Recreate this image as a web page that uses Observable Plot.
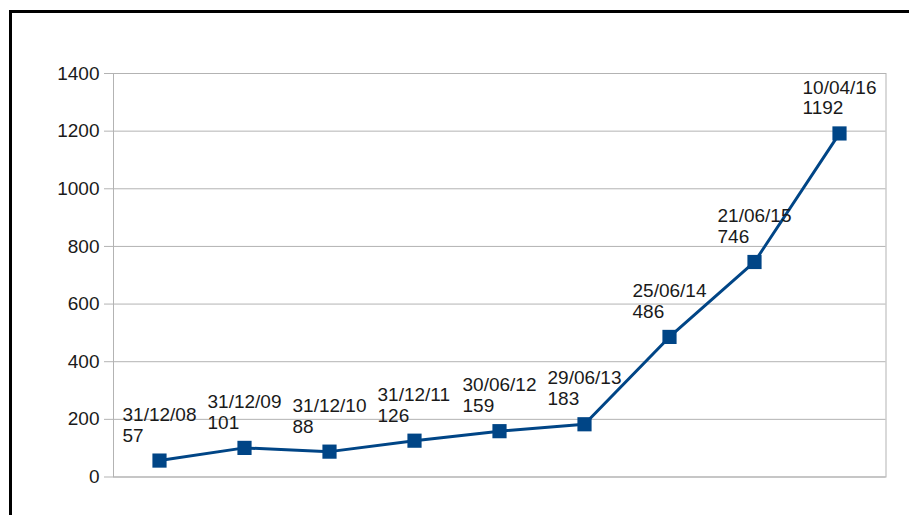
<!DOCTYPE html>
<html>
<head>
<meta charset="utf-8">
<script src="https://cdn.jsdelivr.net/npm/d3@7"></script>
<script src="https://cdn.jsdelivr.net/npm/@observablehq/plot@0.6"></script>
<style>
  html, body { margin: 0; padding: 0; background: #fff; overflow: hidden; }
  #wrap { position: relative; width: 909px; height: 515px; }
  #border { position: absolute; left: 9px; top: 10px; width: 1000px; height: 1000px;
            border: 3px solid #000; pointer-events: none; }
  svg { display: block; }
</style>
</head>
<body>
<div id="wrap"><div id="border"></div></div>
<script>
const dates = ["31/12/08", "31/12/09", "31/12/10", "31/12/11", "30/06/12", "29/06/13", "25/06/14", "21/06/15", "10/04/16"];
const values = [57, 101, 88, 126, 159, 183, 486, 746, 1192];
const yTicks = [0, 200, 400, 600, 800, 1000, 1200, 1400];

const data = dates.map((d, i) => ({date: d, value: values[i]}));

const chart = Plot.plot({
  width: 909,
  height: 515,
  marginLeft: 113,
  marginRight: 23.5,
  marginTop: 73,
  marginBottom: 38.5,
  style: {fontFamily: "'Liberation Sans', Arial, sans-serif", background: "transparent", color: "#1a1a1a"},
  x: {type: "point", domain: dates, padding: 0.5, axis: null},
  y: {domain: [0, 1400], axis: null},
  marks: [
    Plot.gridY(yTicks, {stroke: "#b3b3b3", strokeOpacity: 1, strokeWidth: 1}),
    Plot.frame({stroke: "#b3b3b3", strokeWidth: 1}),
    Plot.axisY(yTicks, {tickSize: 9, tickPadding: 5, stroke: "#b3b3b3", fill: "#1a1a1a", fontSize: 19, label: null, tickFormat: d => String(d)}),
    Plot.line(data, {x: "date", y: "value", stroke: "#004586", strokeWidth: 3}),
    Plot.dot(data, {x: "date", y: "value", symbol: "square", r: 8, fill: "#004586", stroke: null}),
    Plot.text(data, {x: "date", y: "value", text: d => d.date + "\n" + d.value, textAnchor: "start", lineAnchor: "bottom", dx: -37, dy: -19, lineHeight: 1.1, fontSize: 19, fill: "#1a1a1a"})
  ]
});
document.getElementById("wrap").prepend(chart);
</script>
</body>
</html>
